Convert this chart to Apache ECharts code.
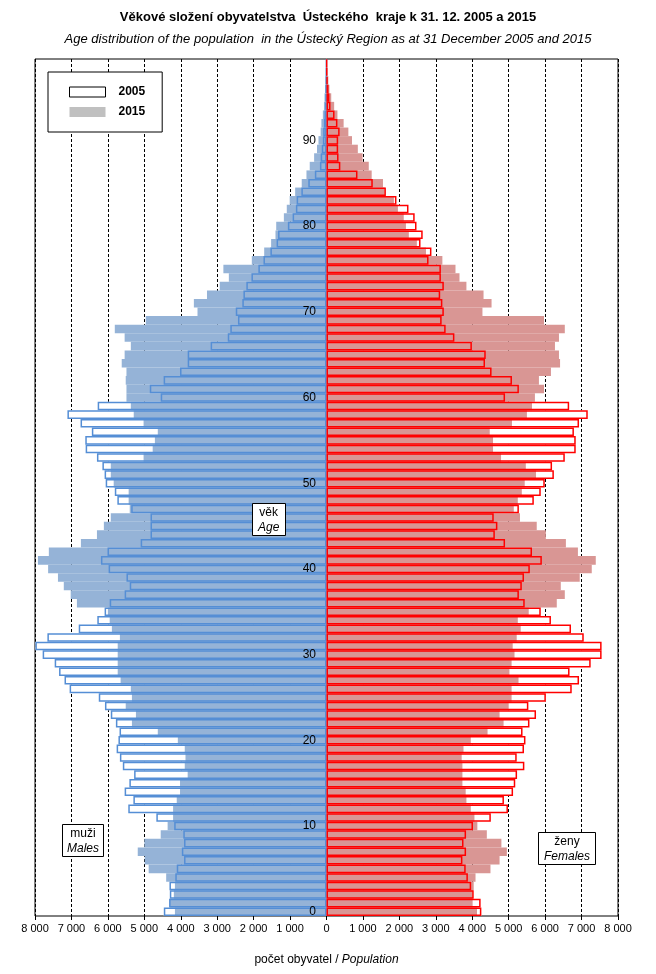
<!DOCTYPE html>
<html>
<head>
<meta charset="utf-8">
<script src="https://cdn.jsdelivr.net/npm/echarts@6/dist/echarts.min.js"></script>
<style>
  body { margin: 0; background: #fff; }
  #chart { width: 656px; height: 974px; }
</style>
</head>
<body>
<div id="chart"></div>
<script>
// věk 0–99
const ages = Array.from({ length: 100 }, (_, i) => String(i));

// muži / Males
const male2005 = [
  4465, 4320, 4300, 4310, 4150, 4110, 3910, 3970, 3910, 3930,
  4180, 4670, 5440, 5300, 5540, 5410, 5280, 5590, 5670, 5760,
  5710, 5680, 5780, 5920, 6080, 6250, 7050, 7190, 7340, 7460,
  7790, 7990, 7660, 6800, 6290, 6090, 5950, 5540, 5400, 5490,
  5980, 6190, 6010, 5100, 4830, 4830, 4830, 5360, 5740, 5810,
  6060, 6090, 6150, 6300, 6610, 6620, 6440, 6750, 7110, 6280,
  4550, 4850, 4470, 4020, 3810, 3810, 3180, 2710, 2640, 2430,
  2490, 2310, 2280, 2200, 2060, 1870, 1730, 1540, 1370, 1330,
  1060, 930, 840, 820, 690, 500, 320, 180, 160, 130,
  100, 90, 70, 55, 35, 25, 20, 12, 8, 5
];
const male2015 = [
  4160, 4300, 4190, 4160, 4400, 4880, 4990, 5180, 5000, 4550,
  4360, 4210, 4210, 4110, 4020, 4020, 3810, 3890, 3870, 3890,
  4080, 4630, 5340, 5230, 5510, 5340, 5370, 5650, 5730, 5730,
  5730, 5730, 5670, 5890, 5950, 6000, 6850, 7020, 7210, 7370,
  7640, 7920, 7620, 6740, 6300, 6110, 5920, 5400, 5430, 5430,
  5840, 5920, 5920, 5020, 4770, 4710, 4630, 5020, 5290, 5370,
  5490, 5490, 5510, 5490, 5620, 5540, 5370, 5540, 5810, 4960,
  3540, 3640, 3280, 2930, 2680, 2830, 2050, 1710, 1520, 1400,
  1380, 1170, 1090, 1010, 860, 680, 550, 460, 340, 260,
  220, 160, 140, 100, 70, 55, 40, 30, 20, 10
];

// ženy / Females
const female2005 = [
  4250, 4230, 4040, 3970, 3880, 3820, 3730, 3830, 3760, 3830,
  4020, 4510, 4980, 4870, 5120, 5180, 5230, 5430, 5220, 5420,
  5460, 5380, 5570, 5750, 5540, 6020, 6730, 6930, 6670, 7250,
  7550, 7550, 7060, 6710, 6160, 5880, 5440, 5280, 5360, 5420,
  5580, 5910, 5640, 4900, 4620, 4690, 4590, 5280, 5690, 5880,
  5990, 6240, 6190, 6540, 6840, 6840, 6790, 6930, 7170, 6660,
  4900, 5280, 5090, 4530, 4350, 4370, 3990, 3510, 3270, 3160,
  3220, 3180, 3120, 3220, 3140, 3140, 2800, 2880, 2580, 2640,
  2470, 2420, 2250, 1920, 1630, 1270, 850, 380, 330, 320,
  320, 360, 300, 220, 110, 80, 55, 30, 15, 10
];
const female2015 = [
  4130, 4010, 4010, 4040, 4090, 4500, 4750, 4950, 4800, 4400,
  4140, 4060, 3960, 3840, 3820, 3730, 3730, 3730, 3710, 3760,
  3960, 4420, 4860, 4750, 5000, 5080, 5080, 5270, 5020, 5080,
  5160, 5110, 5220, 5330, 5250, 5550, 6320, 6540, 6430, 6950,
  7280, 7390, 6900, 6570, 6020, 5770, 5310, 5140, 5250, 5360,
  5440, 5750, 5470, 4790, 4570, 4570, 4480, 5090, 5500, 5640,
  5720, 5970, 5830, 6160, 6410, 6380, 6270, 6380, 6540, 5970,
  4280, 4530, 4310, 3840, 3650, 3540, 3180, 2730, 2480, 2260,
  2180, 2120, 1960, 1850, 1600, 1550, 1240, 1160, 990, 860,
  700, 600, 470, 300, 210, 130, 80, 50, 25, 15
];

const FONT = 'Arial, "Liberation Sans", sans-serif';
const neg = arr => arr.map(v => -v);
const fmt = v => {
  const s = String(Math.abs(v));
  return s.length > 3 ? s.slice(0, -3) + '\u00a0' + s.slice(-3) : s;
};

// pomocná funkce pro sloupcové řady
function bars(name, data, style) {
  return {
    name: name,
    type: 'bar',
    data: data,
    barGap: '-100%',
    barCategoryGap: '0%',
    silent: true,
    itemStyle: style
  };
}

const boxStyle = {
  backgroundColor: '#fff',
  borderColor: '#000',
  borderWidth: 1,
  textStyle: {
    fontFamily: FONT,
    fontWeight: 'normal',
    rich: {
      a: { fontSize: 12, color: '#000', fontFamily: FONT, fontWeight: 'normal', lineHeight: 15, align: 'center' },
      b: { fontSize: 12, color: '#000', fontFamily: FONT, fontWeight: 'normal', fontStyle: 'italic', lineHeight: 15, align: 'center' }
    }
  }
};

const chart = echarts.init(document.getElementById('chart'));
chart.setOption({
  animation: false,
  title: [
    {
      text: 'Věkové složení obyvatelstva  Ústeckého  kraje k 31. 12. 2005 a 2015',
      left: 'center', top: 11, padding: 0,
      textStyle: { fontFamily: FONT, fontSize: 13, fontWeight: 'bold', color: '#000' }
    },
    {
      text: 'Age distribution of the population  in the Ústecký Region as at 31 December 2005 and 2015',
      left: 'center', top: 33, padding: 0,
      textStyle: { fontFamily: FONT, fontSize: 13, fontWeight: 'normal', fontStyle: 'italic', color: '#000' }
    },
    Object.assign({ text: '{a|věk}\n{b|Age}', left: 252, top: 502, padding: [3, 6, 2, 6] }, boxStyle),
    Object.assign({ text: '{a|muži}\n{b|Males}', left: 62, top: 823, padding: [3, 5, 2, 5] }, boxStyle),
    Object.assign({ text: '{a|ženy}\n{b|Females}', left: 538, top: 831, padding: [3, 6, 2, 6] }, boxStyle)
  ],
  legend: {
    orient: 'vertical',
    left: 48, top: 72,
    padding: [14, 17, 14, 21],
    itemGap: 8,
    itemWidth: 36, itemHeight: 10,
    backgroundColor: '#fff',
    borderColor: '#000', borderWidth: 1,
    selectedMode: false,
    textStyle: { fontFamily: FONT, fontSize: 12, fontWeight: 'bold', color: '#000', padding: [0, 0, 0, 8] },
    data: [
      { name: '2005', icon: 'rect', itemStyle: { color: '#fff', borderColor: '#000', borderWidth: 1 } },
      { name: '2015', icon: 'rect', itemStyle: { color: '#c0c0c0', borderWidth: 0 } }
    ]
  },
  grid: {
    left: 35, right: 38, top: 59, bottom: 58,
    show: true, borderColor: '#000', borderWidth: 1
  },
  xAxis: {
    type: 'value',
    min: -8000, max: 8000, interval: 1000,
    name: '{a|počet obyvatel /} {b|Population}',
    nameLocation: 'middle',
    nameGap: 38,
    nameTextStyle: {
      rich: {
        a: { fontFamily: FONT, fontSize: 12, color: '#000' },
        b: { fontFamily: FONT, fontSize: 12, color: '#000', fontStyle: 'italic' }
      }
    },
    axisLine: { lineStyle: { color: '#000', width: 1 } },
    axisTick: { show: true, length: 4, lineStyle: { color: '#000' } },
    axisLabel: { formatter: fmt, fontFamily: FONT, fontSize: 11, color: '#000', margin: 7 },
    splitLine: { show: true, lineStyle: { color: '#000', type: [3, 2], width: 1 } }
  },
  yAxis: {
    type: 'category',
    data: ages,
    z: 10,
    axisLine: { show: false },
    axisTick: { show: false },
    axisLabel: {
      // popisky věku u nulové osy
      interval: idx => idx % 10 === 0,
      fontFamily: FONT, fontSize: 12, color: '#000', margin: -281
    },
    splitLine: { show: false }
  },
  series: [
    bars('2005', neg(male2005), { color: '#fff' }),
    bars('2005', female2005, { color: '#fff' }),
    bars('2015', neg(male2015), { color: '#95b3d7' }),
    bars('2015', female2015, { color: '#d99694' }),
    bars('2005', neg(male2005), { color: 'rgba(0,0,0,0)', borderColor: '#558ed5', borderWidth: 1.5 }),
    bars('2005', female2005, { color: 'rgba(0,0,0,0)', borderColor: '#ff0000', borderWidth: 1.5 })
  ]
});
</script>
</body>
</html>
